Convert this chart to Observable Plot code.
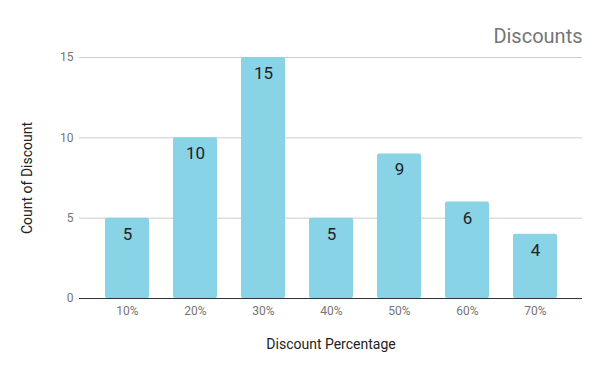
<!DOCTYPE html>
<html>
<head>
<meta charset="utf-8">
<script src="https://cdn.jsdelivr.net/npm/d3@7"></script>
<script src="https://cdn.jsdelivr.net/npm/@observablehq/plot@0.6"></script>
<style>
  html, body { margin: 0; padding: 0; background: #fff; }
  #chart svg { display: block; }
</style>
</head>
<body>
<div id="chart"></div>
<script>
const categories = ["10%", "20%", "30%", "40%", "50%", "60%", "70%"];
const counts = [5, 10, 15, 5, 9, 6, 4];
const yTicks = [0, 5, 10, 15];
const title = "Discounts";
const xLabel = "Discount Percentage";
const yLabel = "Count of Discount";

const data = categories.map((c, i) => ({ category: c, count: counts[i] }));

const chart = Plot.plot({
  width: 600,
  height: 371,
  marginLeft: 79,
  marginRight: 18,
  marginTop: 57,
  marginBottom: 73,
  style: { fontFamily: "Roboto, sans-serif", background: "#fff" },
  x: { domain: categories, paddingInner: 0.355, paddingOuter: 0.367 },
  y: { domain: [0, 15] },
  marks: [
    Plot.gridY(yTicks, { stroke: "#cccccc", strokeOpacity: 1 }),
    Plot.axisY(yTicks, {
      tickSize: 0, tickPadding: 6, fontSize: 12, color: "#757575",
      label: null
    }),
    Plot.axisX({
      tickSize: 0, tickPadding: 8, fontSize: 12, color: "#757575",
      label: null
    }),
    Plot.barY(data, { x: "category", y: "count", fill: "#89d3e6", ry: 2 }),
    Plot.ruleY([0], { stroke: "#333333", strokeWidth: 1 }),
    Plot.text(data, {
      x: "category", y: "count", text: d => String(d.count),
      dy: 16, fontSize: 17, fill: "#222222"
    }),
    Plot.text([title], {
      frameAnchor: "top-right", dy: -29, fontSize: 20, fill: "#757575", textAnchor: "end"
    }),
    Plot.text([xLabel], {
      frameAnchor: "bottom", dy: 50, fontSize: 14, fill: "#222222"
    }),
    Plot.text([yLabel], {
      frameAnchor: "left", dx: -52, rotate: -90, textAnchor: "middle", fontSize: 14, fill: "#222222"
    })
  ]
});
document.getElementById("chart").appendChild(chart);
</script>
</body>
</html>
